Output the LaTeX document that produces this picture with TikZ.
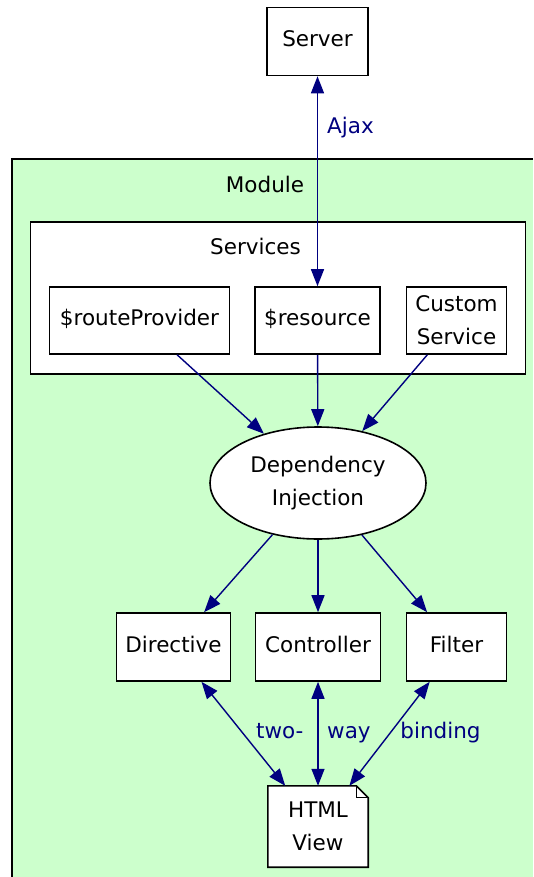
\documentclass[tikz,border=0pt]{standalone}
\usepackage{fontspec}
\setmainfont{DejaVu Sans}
\usetikzlibrary{arrows.meta,shapes.geometric}
\definecolor{modgreen}{HTML}{CCFFCC}
\definecolor{edgeblue}{HTML}{000080}
\pgfdeclarelayer{back}
\pgfdeclarelayer{mid}
\pgfsetlayers{back,mid,main}
\begin{document}
\begin{tikzpicture}[x=1pt,y=-1pt,
  box/.style={draw=black, line width=1.6pt, fill=white, inner sep=0pt, align=center,
              font=\fontsize{21.5}{33}\selectfont},
  oneline/.style={text height=16pt, text depth=6pt},
  notebox/.style={inner sep=0pt, align=center, minimum width=100pt, minimum height=81pt,
              font=\fontsize{21.5}{33}\selectfont},
  clusterlbl/.style={inner sep=0pt, font=\fontsize{21.5}{26}\selectfont},
  lbl/.style={text=edgeblue, inner sep=0pt, font=\fontsize{21.5}{26}\selectfont},
  conn/.style={draw=edgeblue, line width=1.4pt, -{Triangle[length=17pt,width=13pt]}},
  both/.style={draw=edgeblue, line width=1.4pt,
               {Triangle[length=17pt,width=13pt]}-{Triangle[length=17pt,width=13pt]}},
]
\useasboundingbox (0,0) rectangle (533,877);
\begin{pgfonlayer}{back}
  \fill[white] (0,0) rectangle (533,877);
  \fill[modgreen] (12,159) rectangle (533,877);
  \draw[line width=1.6pt] (12,877) -- (12,159) -- (533,159);
\end{pgfonlayer}

% cluster labels
\node[clusterlbl] (modlbl) at (265,184) {Module};
% Services cluster
\draw[line width=1.6pt, fill=white] (30.5,222) rectangle (525.5,374);
\node[clusterlbl] (svclbl) at (255.5,246) {Services};

% nodes
\node[box, oneline, minimum width=101pt, minimum height=68pt] (srv) at (317.5,41.5) {Server};
\node[box, oneline, minimum width=180pt, minimum height=67pt] (rp) at (139.5,320.5) {\$routeProvider};
\node[box, oneline, minimum width=125pt, minimum height=67pt] (res) at (317.5,320.5) {\$resource};
\node[box, minimum width=100pt, minimum height=67pt] (cust) at (456.5,320.5) {Custom\\Service};
\node[box, ellipse, minimum width=216pt, minimum height=112pt] (di) at (318,483) {Dependency\\Injection};
\node[box, oneline, minimum width=114pt, minimum height=68pt] (dir) at (173.5,647) {Directive};
\node[box, oneline, minimum width=125pt, minimum height=68pt] (ctl) at (318,647) {Controller};
\node[box, oneline, minimum width=100pt, minimum height=68pt] (fil) at (456.5,647) {Filter};
\node[notebox] (html) at (318,826.5) {HTML\\View};
\begin{pgfonlayer}{mid}
  \draw[line width=1.6pt, fill=white] (html.south west) -- (html.south east)
     -- ([yshift=-12pt]html.north east) -- ([xshift=-12pt]html.north east)
     -- (html.north west) -- cycle;
  \draw[line width=1pt] ([xshift=-12pt]html.north east) |- ([yshift=-12pt]html.north east);
\end{pgfonlayer}

% connectors
\draw[both] (srv) -- node[lbl, pos=0.29, anchor=base west, xshift=9pt, yshift=4pt] {Ajax} (res);
\draw[conn] (rp) -- (di);
\draw[conn] (res) -- (di);
\draw[conn] (cust) -- (di);
\draw[conn] (di) -- (dir);
\draw[conn] (di) -- (ctl);
\draw[conn] (di) -- (fil);
\draw[both] (dir) -- node[lbl, pos=0.56, anchor=base west, xshift=7pt, yshift=2pt] {two-} (html);
\draw[both] (ctl) -- node[lbl, pos=0.56, anchor=base west, xshift=8.5pt, yshift=2pt] {way} (html);
\draw[both] (fil) -- node[lbl, pos=0.56, anchor=base west, xshift=15pt, yshift=2pt] {binding} (html);
\end{tikzpicture}
\end{document}
